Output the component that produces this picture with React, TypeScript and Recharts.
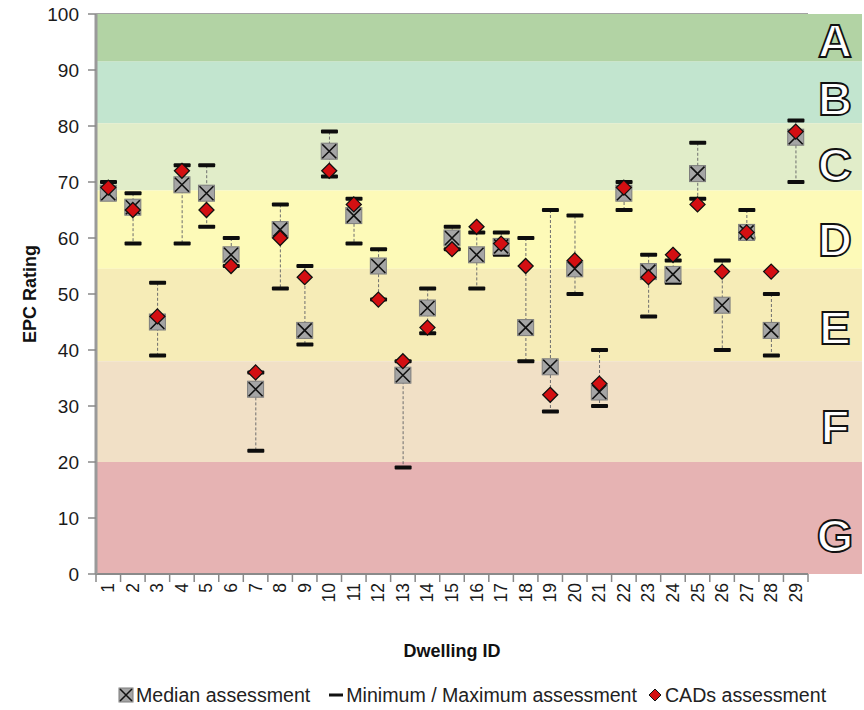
import React from 'react';
import { ComposedChart, Bar, Scatter, XAxis, YAxis, CartesianGrid, ReferenceArea, Legend } from 'recharts';

// dwelling ids and the four assessments per dwelling
const dwellingIds = [1, 2, 3, 4, 5, 6, 7, 8, 9, 10, 11, 12, 13, 14, 15, 16, 17, 18, 19, 20, 21, 22, 23, 24, 25, 26, 27, 28, 29];
const medianRatings = [68, 65.5, 45, 69.5, 68, 57, 33, 61.5, 43.5, 75.5, 64, 55, 35.5, 47.5, 60, 57, 58.5, 44, 37, 54.5, 32.5, 68, 54, 53.5, 71.5, 48, 61, 43.5, 78];
const minRatings = [67, 59, 39, 59, 62, 55, 22, 51, 41, 71, 59, 49, 19, 43, 58, 51, 57, 38, 29, 50, 30, 65, 46, 52, 67, 40, 60, 39, 70];
const maxRatings = [70, 68, 52, 73, 73, 60, 36, 66, 55, 79, 67, 58, 38, 51, 62, 61, 61, 60, 65, 64, 40, 70, 57, 56, 77, 56, 65, 50, 81];
const cadRatings = [69, 65, 46, 72, 65, 55, 36, 60, 53, 72, 66, 49, 38, 44, 58, 62, 59, 55, 32, 56, 34, 69, 53, 57, 66, 54, 61, 54, 79];

// EPC bands
const bandLetters = ['A', 'B', 'C', 'D', 'E', 'F', 'G'];
const bandFrom = [91.5, 80.5, 68.5, 54.5, 38, 20, 0];
const bandTo = [100, 91.5, 80.5, 68.5, 54.5, 38, 20];
const bandColors = ['#b2d3a4', '#c2e5cf', '#e1edc9', '#fdfab8', '#f6ecb7', '#f1e0c6', '#e6b3b3'];

const yTicks = [0, 10, 20, 30, 40, 50, 60, 70, 80, 90, 100];

const FONT = '"Liberation Sans", Arial, sans-serif';

const data = dwellingIds.map((id, i) => ({
  id: String(id),
  median: medianRatings[i],
  min: minRatings[i],
  max: maxRatings[i],
  cad: cadRatings[i],
}));

const BandShape = (letter: string, color: string) => (props: any) => {
  const { x, y, width, height } = props;
  // letters sit a little below the middle of each band
  const cy = y + height * 0.72 - 8;
  return (
    <g>
      <rect x={x} y={y} width={width + 54} height={height} fill={color} />
      <text x={x + width + 27} y={cy + 17} textAnchor="middle" fontFamily={FONT} fontWeight="bold"
        fontSize={47} fill="#fff" stroke="#111" strokeWidth={1.8}>{letter}</text>
    </g>
  );
};

const RangeShape = (props: any) => {
  const { x, y, width, height } = props;
  const top = Math.min(y, y + height);
  const h = Math.abs(height);
  const cx = x + width / 2;
  return (
    <g>
      <line x1={cx} x2={cx} y1={top} y2={top + h} stroke="#6e6e6e" strokeWidth={1} strokeDasharray="3 2" />
      <rect x={x} y={top - 2} width={width} height={4} rx={1} fill="#0d0d0d" />
      <rect x={x} y={top + h - 2} width={width} height={4} rx={1} fill="#0d0d0d" />
    </g>
  );
};

const MedianShape = (props: any) => {
  const { cx, cy } = props;
  return (
    <g>
      <rect x={cx - 8} y={cy - 8} width={16} height={16} fill="#a5a5a5" stroke="#7c7c7c" strokeWidth={1} />
      <path d={`M${cx - 7},${cy - 7}L${cx + 7},${cy + 7}M${cx + 7},${cy - 7}L${cx - 7},${cy + 7}`} stroke="#111" strokeWidth={1.6} />
    </g>
  );
};

const CadShape = (props: any) => {
  const { cx, cy } = props;
  const r = 7.5;
  return (
    <path d={`M${cx},${cy - r}L${cx + r},${cy}L${cx},${cy + r}L${cx - r},${cy}Z`} fill="#d40f12" stroke="#111" strokeWidth={1.3} />
  );
};

const PLOT_W = 712;

const DwellingTick = (props: any) => {
  const { x, y, payload, index } = props;
  const step = PLOT_W / dwellingIds.length;
  const last = index === dwellingIds.length - 1;
  return (
    <g>
      <line x1={x - step / 2} x2={x - step / 2} y1={y - 8} y2={y} stroke="#888" strokeWidth={1.5} />
      {last && <line x1={x + step / 2} x2={x + step / 2} y1={y - 8} y2={y} stroke="#888" strokeWidth={1.5} />}
      <text x={x} y={y + 1} transform={`rotate(-90, ${x}, ${y + 1})`} textAnchor="end" dominantBaseline="central"
        fontFamily={FONT} fontSize={17.5} fill="#1a1a1a">{payload.value}</text>
    </g>
  );
};

const YLabel = (props: any) => {
  const { viewBox } = props;
  const x = viewBox.x - 6;
  const y = viewBox.y + viewBox.height / 2;
  return (
    <text x={x} y={y} transform={`rotate(-90, ${x}, ${y})`} textAnchor="middle" dominantBaseline="central"
      fontFamily={FONT} fontWeight="bold" fontSize={18} fill="#111">EPC Rating</text>
  );
};

const XLabel = (props: any) => {
  const { viewBox } = props;
  return (
    <text x={viewBox.x + viewBox.width / 2} y={viewBox.y + 83} textAnchor="middle"
      fontFamily={FONT} fontWeight="bold" fontSize={18} fill="#111">Dwelling ID</text>
  );
};

const iconStyle = { flexShrink: 0, display: 'block' } as const;

const LegendContent = () => (
  <div style={{ display: 'flex', alignItems: 'center', height: 30, paddingLeft: 118, fontFamily: FONT, fontSize: 19.6, color: '#222', whiteSpace: 'nowrap' }}>
    <svg width={16} height={16} style={{ ...iconStyle, marginRight: 2 }}>
      <rect x={1} y={1} width={14} height={14} fill="#a5a5a5" stroke="#7c7c7c" />
      <path d="M2,2L14,14M14,2L2,14" stroke="#111" strokeWidth={1.5} />
    </svg>
    <span>Median assessment</span>
    <svg width={16} height={16} style={{ ...iconStyle, marginLeft: 18, marginRight: 2 }}>
      <rect x={1} y={6.5} width={14} height={3} fill="#111" />
    </svg>
    <span>Minimum / Maximum assessment</span>
    <svg width={14} height={14} style={{ ...iconStyle, marginLeft: 11, marginRight: 3 }}>
      <path d="M7,1L13,7L7,13L1,7Z" fill="#d40f12" stroke="#111" strokeWidth={1} />
    </svg>
    <span>CADs assessment</span>
  </div>
);

export default function App() {
  return (
    <div>
      <style>{'body{margin:0;background:#fff}'}</style>
      <ComposedChart width={864} height={710} data={data} margin={{ top: 14, right: 56, left: 36, bottom: 0 }}>
        {bandLetters.map((letter, i) => (
          <ReferenceArea key={letter} y1={bandFrom[i]} y2={bandTo[i]} ifOverflow="visible"
            shape={BandShape(letter, bandColors[i])} />
        ))}
        <CartesianGrid vertical={false} stroke="#858585" strokeWidth={1.5} />
        <XAxis dataKey="id" type="category" interval={0} height={106} tickSize={8} tickMargin={0}
          tickLine={false} axisLine={{ stroke: '#8a8a8a', strokeWidth: 2 }} tick={<DwellingTick />}
          label={<XLabel />} />
        <YAxis type="number" domain={[0, 100]} ticks={yTicks} width={60} tickSize={8} tickMargin={9}
          axisLine={{ stroke: '#9a9a9a', strokeWidth: 3 }} tickLine={{ stroke: '#888', strokeWidth: 1.5 }}
          tick={{ fill: '#1a1a1a', fontSize: 19, fontFamily: FONT }} label={<YLabel />} />
        <Bar dataKey={(d: any) => [d.min, d.max]} barSize={17} shape={<RangeShape />} isAnimationActive={false} legendType="none" />
        <Scatter dataKey="median" shape={<MedianShape />} isAnimationActive={false} legendType="none" />
        <Scatter dataKey="cad" shape={<CadShape />} isAnimationActive={false} legendType="none" />
        <Legend verticalAlign="bottom" height={30} wrapperStyle={{ left: 0, width: 864 }} content={<LegendContent />} />
      </ComposedChart>
    </div>
  );
}
